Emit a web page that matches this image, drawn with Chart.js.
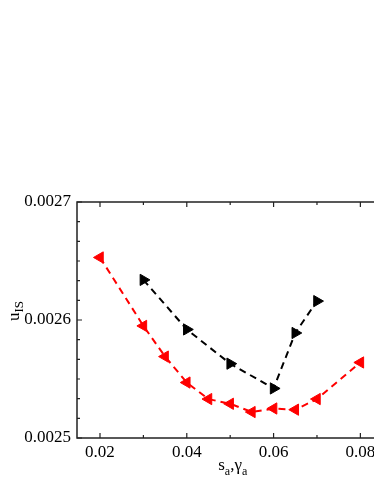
<!DOCTYPE html>
<html>
<head>
<meta charset="utf-8">
<script src="https://cdn.jsdelivr.net/npm/chart.js@4/dist/chart.umd.min.js"></script>
<style>
  html, body { margin: 0; padding: 0; background: #fff; overflow: hidden; }
  #wrap { width: 392px; height: 484px; }
</style>
</head>
<body>
<div id="wrap"><canvas id="chart" width="392" height="484"></canvas></div>
<script>
// values
const redX = [0.02, 0.03, 0.035, 0.04, 0.045, 0.05, 0.055, 0.06, 0.065, 0.07, 0.08];
const redY = [0.002653, 0.002595, 0.002569, 0.002547, 0.002533, 0.002529, 0.002522, 0.002525, 0.002524, 0.002533, 0.002564];
const blackX = [0.03, 0.04, 0.05, 0.06, 0.065, 0.07];
const blackY = [0.002634, 0.002592, 0.002563, 0.002542, 0.002589, 0.002616];

const xTicks = [0.02, 0.04, 0.06, 0.08];
const xMinor = [0.03, 0.05, 0.07];
const yTicks = [0.0025, 0.0026, 0.0027];

const serif = "'Liberation Serif', 'DejaVu Serif', serif";

// inward ticks on all four sides + the closing frame, plus the axis titles
const framePlugin = {
    id: 'frame',
    afterDraw(chart) {
        const ctx = chart.ctx;
        const a = chart.chartArea;
        const xs = chart.scales.x, ys = chart.scales.y;
        ctx.save();
        ctx.strokeStyle = '#222';
        ctx.lineWidth = 1.5;
        ctx.strokeRect(a.left, a.top, a.right - a.left, a.bottom - a.top);

        ctx.lineWidth = 1.2;
        ctx.beginPath();
        const xt = (v, len) => {
            const px = xs.getPixelForValue(v);
            ctx.moveTo(px, a.bottom); ctx.lineTo(px, a.bottom - len);
            ctx.moveTo(px, a.top); ctx.lineTo(px, a.top + len);
        };
        xTicks.forEach(v => xt(v, 5));
        xMinor.forEach(v => xt(v, 3));
        const yt = (v, len) => {
            const py = ys.getPixelForValue(v);
            ctx.moveTo(a.left, py); ctx.lineTo(a.left + len, py);
            ctx.moveTo(a.right, py); ctx.lineTo(a.right - len, py);
        };
        yTicks.forEach(v => yt(v, 5));
        for (let i = 0; i < yTicks.length - 1; i++) {
            const step = (yTicks[i + 1] - yTicks[i]) / 6;
            for (let k = 1; k < 6; k++) yt(yTicks[i] + k * step, 3);
        }
        ctx.stroke();

        // axis titles
        ctx.fillStyle = '#000';
        ctx.textBaseline = 'alphabetic';
        ctx.textAlign = 'left';

        // x title: s_a,γ_a
        const big = '17px ' + serif, small = '12px ' + serif;
        const parts = [['s', big, 0], ['a', small, 5], [',', big, 0], ['γ', big, 0], ['a', small, 5]];
        let total = 0;
        parts.forEach(p => { ctx.font = p[1]; total += ctx.measureText(p[0]).width; });
        let x = (a.left + a.right) / 2 - total / 2 + 2;
        parts.forEach(p => {
            ctx.font = p[1];
            ctx.fillText(p[0], x, 470 + p[2]);
            x += ctx.measureText(p[0]).width;
        });

        // y title: u_IS
        ctx.translate(19, 321);
        ctx.rotate(-Math.PI / 2);
        ctx.font = big;
        ctx.fillText('u', 0, 0);
        const w = ctx.measureText('u').width;
        ctx.font = '13px ' + serif;
        ctx.fillText('IS', w, 4);
        ctx.restore();
    }
};

new Chart(document.getElementById('chart'), {
    type: 'line',
    data: {
        datasets: [
            {
                data: redX.map((v, i) => ({ x: v, y: redY[i] })),
                borderColor: '#ff0000',
                backgroundColor: '#ff0000',
                borderWidth: 2,
                borderDash: [7, 5],
                pointStyle: 'triangle',
                rotation: -90,
                pointRadius: 6.5,
                pointBorderWidth: 1,
                tension: 0
            },
            {
                data: blackX.map((v, i) => ({ x: v, y: blackY[i] })),
                borderColor: '#000',
                backgroundColor: '#000',
                borderWidth: 2,
                borderDash: [7, 5],
                pointStyle: 'triangle',
                rotation: 90,
                pointRadius: 6.5,
                pointBorderWidth: 1,
                tension: 0
            }
        ]
    },
    options: {
        responsive: false,
        animation: false,
        layout: { padding: { top: 202, right: 5, left: 0, bottom: 0 } },
        plugins: { legend: { display: false }, tooltip: { enabled: false } },
        scales: {
            x: {
                type: 'linear',
                min: 0.0147,
                max: 0.08556,
                grid: { display: false, drawTicks: false },
                border: { display: false },
                afterBuildTicks: s => { s.ticks = xTicks.map(v => ({ value: v })); },
                afterFit: s => { s.height = 46; },
                ticks: {
                    color: '#000',
                    padding: 4,
                    maxRotation: 0,
                    font: { family: serif, size: 17 },
                    callback: v => v.toFixed(2)
                }
            },
            y: {
                min: 0.0025,
                max: 0.0027,
                grid: { display: false, drawTicks: false },
                border: { display: false },
                afterBuildTicks: s => { s.ticks = yTicks.map(v => ({ value: v })); },
                afterFit: s => { s.width = 77; },
                ticks: {
                    color: '#000',
                    padding: 6,
                    font: { family: serif, size: 17 },
                    callback: v => v.toFixed(4)
                }
            }
        }
    },
    plugins: [framePlugin]
});
</script>
</body>
</html>
